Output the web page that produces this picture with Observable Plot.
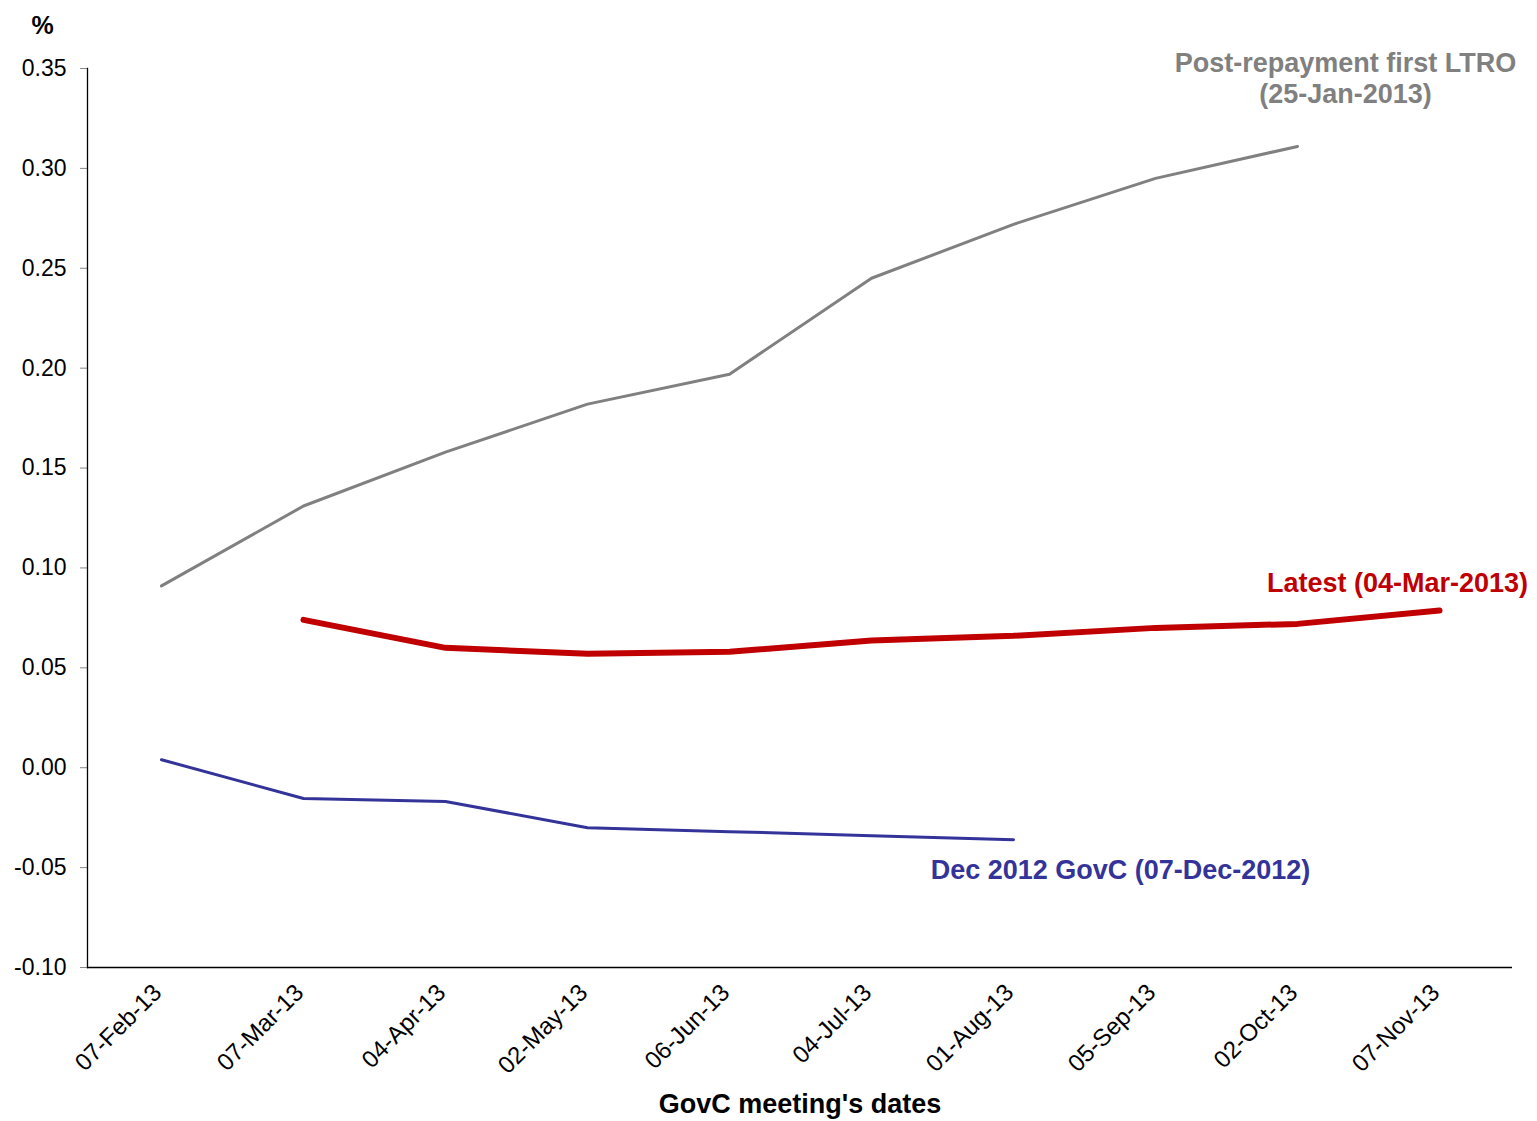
<!DOCTYPE html>
<html>
<head>
<meta charset="utf-8">
<script src="https://cdn.jsdelivr.net/npm/d3@7"></script>
<script src="https://cdn.jsdelivr.net/npm/@observablehq/plot@0.6"></script>
<style>
  html, body { margin: 0; padding: 0; background: #fff; }
  #chart { width: 1537px; height: 1121px; }
  svg { font-family: "Liberation Sans", Arial, sans-serif; }
</style>
</head>
<body>
<div id="chart"></div>
<script>
const dates = ["07-Feb-13","07-Mar-13","04-Apr-13","02-May-13","06-Jun-13","04-Jul-13","01-Aug-13","05-Sep-13","02-Oct-13","07-Nov-13"];
const postRepayment = [0.091, 0.131, 0.158, 0.182, 0.197, 0.245, 0.272, 0.295, 0.311, null];
const latest = [null, 0.074, 0.060, 0.057, 0.058, 0.0637, 0.066, 0.070, 0.072, 0.0787];
const dec2012 = [0.004, -0.0154, -0.0169, -0.030, -0.032, -0.034, -0.036, null, null, null];
const yTicks = [-0.10, -0.05, 0.00, 0.05, 0.10, 0.15, 0.20, 0.25, 0.30, 0.35];

const seriesNames = ["Post-repayment first LTRO\n(25-Jan-2013)", "Latest (04-Mar-2013)", "Dec 2012 GovC (07-Dec-2012)"];
const seriesColors = ["#808080", "#c00000", "#333399"];
const seriesWidths = [3, 6, 3];
const labelAnchorsX = ["02-Oct-13", "07-Nov-13", "05-Sep-13"];
const labelAnchorsY = [0.3455, 0.093, -0.0505];

const series = [postRepayment, latest, dec2012];
const rows = (vals) => dates.map((d, i) => ({date: d, value: vals[i]})).filter(r => r.value != null);

const marks = [];
series.forEach((vals, k) => {
  marks.push(Plot.line(rows(vals), {
    x: "date", y: "value",
    stroke: seriesColors[k], strokeWidth: seriesWidths[k],
    strokeLinecap: "round", strokeLinejoin: "round"
  }));
});

const labelDx = [48, -42, -35];
seriesNames.forEach((name, k) => {
  marks.push(Plot.text([name], {
    x: () => labelAnchorsX[k], y: () => labelAnchorsY[k],
    text: d => d, dx: labelDx[k],
    fill: seriesColors[k], fontWeight: "bold", fontSize: 27,
    textAnchor: "middle", lineAnchor: "middle", lineHeight: 1.15
  }));
});

const chart = Plot.plot({
  width: 1537,
  height: 1121,
  marginLeft: 87,
  marginRight: 25,
  marginTop: 68,
  marginBottom: 154,
  style: {fontFamily: "Liberation Sans, Arial, sans-serif", background: "#fff", overflow: "visible"},
  x: {type: "point", domain: dates, padding: 0.5},
  y: {domain: [-0.10, 0.35]},
  marks: [
    Plot.axisY({ticks: yTicks, tickSize: 7, tickPadding: 14, stroke: "#888", fill: "#000", fontSize: 23, tickFormat: d => d.toFixed(2), label: null}),
    Plot.axisX({tickSize: 0, tickPadding: 21, dx: -4, tickRotate: -45, fontSize: 24, fill: "#000", label: null}),
    Plot.ruleY([-0.10], {stroke: "#000", strokeWidth: 1.3}),
    Plot.frame({anchor: "left", stroke: "#000", strokeWidth: 1.3}),
    ...marks,
    Plot.text(["%"], {frameAnchor: "top-left", dx: -45, dy: -43, text: d => d, fontWeight: "bold", fontSize: 25, fill: "#000", textAnchor: "middle", lineAnchor: "middle"}),
    Plot.text(["GovC meeting's dates"], {frameAnchor: "bottom", dy: 137, text: d => d, fontWeight: "bold", fontSize: 27, fill: "#000", textAnchor: "middle", lineAnchor: "middle"})
  ]
});
document.getElementById("chart").appendChild(chart);
</script>
</body>
</html>
